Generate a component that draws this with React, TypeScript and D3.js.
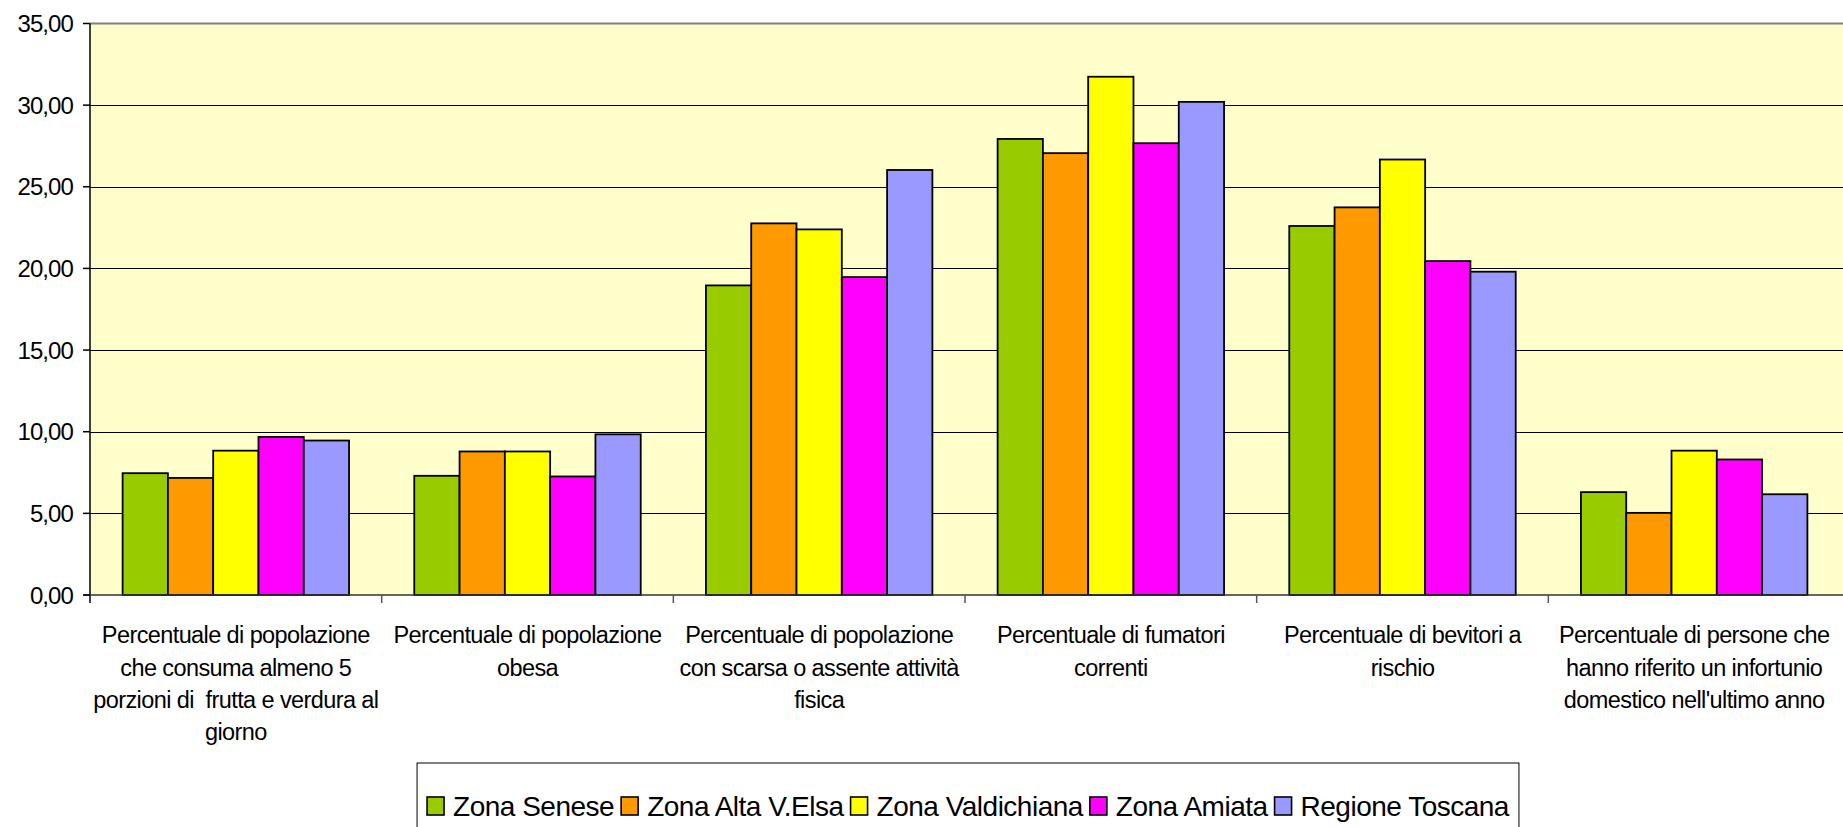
import React, { useRef, useEffect } from "react";
import * as d3 from "d3";

const categories = [
  ["Percentuale di popolazione", "che consuma almeno 5", "porzioni di  frutta e verdura al", "giorno"],
  ["Percentuale di popolazione", "obesa"],
  ["Percentuale di popolazione", "con scarsa o assente attività", "fisica"],
  ["Percentuale di fumatori", "correnti"],
  ["Percentuale di bevitori a", "rischio"],
  ["Percentuale di persone che", "hanno riferito un infortunio", "domestico nell'ultimo anno"],
];

const seriesNames = ["Zona Senese", "Zona Alta V.Elsa", "Zona Valdichiana", "Zona Amiata", "Regione Toscana"];
const seriesColors = ["#99CC00", "#FF9900", "#FFFF00", "#FF00FF", "#9999FF"];

const zonaSenese = [7.46, 7.3, 18.96, 27.93, 22.6, 6.3];
const zonaAltaVElsa = [7.17, 8.79, 22.76, 27.06, 23.74, 5.03];
const zonaValdichiana = [8.84, 8.79, 22.39, 31.74, 26.67, 8.84];
const zonaAmiata = [9.68, 7.26, 19.47, 27.67, 20.45, 8.3];
const regioneToscana = [9.46, 9.84, 26.03, 30.2, 19.8, 6.17];

const yTicks = [0, 5, 10, 15, 20, 25, 30, 35];

const W = 1843;
const H = 827;
const FONT = "'Liberation Sans', Arial, sans-serif";

export default function App() {
  const ref = useRef<SVGSVGElement>(null);

  useEffect(() => {
    const svg = d3.select(ref.current);
    svg.selectAll("*").remove();

    const m = { left: 90, right: 3, top: 23.5, bottom: 232 };
    const plotW = W - m.left - m.right;
    const plotH = H - m.top - m.bottom;

    const values = [zonaSenese, zonaAltaVElsa, zonaValdichiana, zonaAmiata, regioneToscana];

    const x0 = d3
      .scaleBand<number>()
      .domain(d3.range(categories.length))
      .range([m.left, m.left + plotW])
      .padding(0);
    const x1 = d3
      .scaleBand<number>()
      .domain(d3.range(seriesNames.length))
      .range([0, x0.bandwidth()])
      .paddingInner(0)
      .paddingOuter(0.72);
    const y = d3.scaleLinear().domain([0, 35]).range([m.top + plotH, m.top]);

    const fmt = d3.formatLocale({ decimal: ",", thousands: ".", grouping: [3], currency: ["", "€"] }).format(".2f");

    // plot area
    svg
      .append("rect")
      .attr("x", m.left)
      .attr("y", m.top)
      .attr("width", plotW + m.right)
      .attr("height", plotH)
      .attr("fill", "#FFFFCC");

    // gridlines
    svg
      .append("g")
      .selectAll("line")
      .data(yTicks.filter((t) => t > 0 && t < 35))
      .join("line")
      .attr("x1", m.left)
      .attr("x2", W)
      .attr("y1", (d) => Math.round(y(d)) + 0.5)
      .attr("y2", (d) => Math.round(y(d)) + 0.5)
      .attr("stroke", "#000")
      .attr("stroke-width", 1.2);

    svg
      .append("line")
      .attr("x1", m.left)
      .attr("x2", W)
      .attr("y1", m.top)
      .attr("y2", m.top)
      .attr("stroke", "#808080")
      .attr("stroke-width", 2);

    // bars
    const groups = svg
      .append("g")
      .selectAll("g")
      .data(categories.map((_, i) => i))
      .join("g")
      .attr("transform", (i) => `translate(${x0(i)},0)`);

    groups
      .selectAll("rect")
      .data((i) => values.map((s, k) => ({ k, v: s[i] })))
      .join("rect")
      .attr("x", (d) => x1(d.k)!)
      .attr("y", (d) => y(d.v))
      .attr("width", x1.bandwidth())
      .attr("height", (d) => y(0) - y(d.v))
      .attr("fill", (d) => seriesColors[d.k])
      .attr("stroke", "#000")
      .attr("stroke-width", 1.8);

    // axes
    const axisG = svg.append("g").attr("stroke", "#000").attr("stroke-width", 1.5);
    axisG
      .append("line")
      .attr("x1", m.left)
      .attr("x2", m.left)
      .attr("y1", m.top)
      .attr("y2", y(0) + 8);
    axisG
      .append("line")
      .attr("x1", m.left - 7)
      .attr("x2", W)
      .attr("y1", y(0))
      .attr("y2", y(0))
      .attr("stroke", "#333");
    axisG
      .selectAll("line.yt")
      .data(yTicks)
      .join("line")
      .attr("class", "yt")
      .attr("x1", m.left - 7)
      .attr("x2", m.left)
      .attr("y1", (d) => y(d))
      .attr("y2", (d) => y(d));
    axisG
      .selectAll("line.xt")
      .data(d3.range(1, categories.length))
      .join("line")
      .attr("class", "xt")
      .attr("x1", (i) => x0(i)!)
      .attr("x2", (i) => x0(i)!)
      .attr("y1", y(0))
      .attr("y2", y(0) + 8)
      .attr("stroke", "#555");

    svg
      .append("g")
      .selectAll("text")
      .data(yTicks)
      .join("text")
      .attr("x", m.left - 17)
      .attr("y", (d) => y(d))
      .attr("dy", "0.36em")
      .attr("text-anchor", "end")
      .attr("font-family", FONT)
      .attr("font-size", 24)
      .attr("letter-spacing", -0.9)
      .attr("fill", "#000")
      .text((d) => fmt(d));

    // category labels
    const labels = svg
      .append("g")
      .selectAll("text")
      .data(categories)
      .join("text")
      .attr("x", (_, i) => x0(i)! + x0.bandwidth() / 2)
      .attr("y", 635)
      .attr("text-anchor", "middle")
      .attr("font-family", FONT)
      .attr("font-size", 23.5)
      .attr("letter-spacing", -0.6)
      .attr("fill", "#000");
    labels
      .selectAll("tspan")
      .data((d) => d)
      .join("tspan")
      .attr("x", function () {
        return (this.parentNode as SVGTextElement).getAttribute("x");
      })
      .attr("dy", (_, j) => (j === 0 ? "0.36em" : 32.3))
      .style("white-space", "pre")
      .text((d) => d);

    // legend
    const legY = 806;
    const legend = svg.append("g");
    const box = legend
      .append("rect")
      .attr("y", 763)
      .attr("height", 80)
      .attr("fill", "#fff")
      .attr("stroke", "#000")
      .attr("stroke-width", 1);
    let cx = 0;
    const items = legend.append("g");
    seriesNames.forEach((name, k) => {
      items
        .append("rect")
        .attr("x", cx)
        .attr("y", legY - 9)
        .attr("width", 17)
        .attr("height", 18)
        .attr("fill", seriesColors[k])
        .attr("stroke", "#000")
        .attr("stroke-width", 1.6);
      const t = items
        .append("text")
        .attr("x", cx + 26)
        .attr("y", legY)
        .attr("dy", "0.36em")
        .attr("font-family", FONT)
        .attr("font-size", 28)
        .attr("letter-spacing", -0.5)
        .attr("fill", "#000")
        .text(name);
      const tw = (t.node() as SVGTextElement).getComputedTextLength();
      cx += 26 + tw + 7;
    });
    const totalW = cx - 7;
    const pad = 10;
    const legendCenter = 968;
    const lx = legendCenter - totalW / 2;
    items.attr("transform", `translate(${lx},0)`);
    box.attr("x", lx - pad).attr("width", totalW + 2 * pad);
  }, []);

  return (
    <div style={{ position: "absolute", left: 0, top: 0, width: W, height: H, overflow: "hidden", background: "#fff" }}>
      <svg ref={ref} width={W} height={H} style={{ display: "block" }}></svg>
    </div>
  );
}
